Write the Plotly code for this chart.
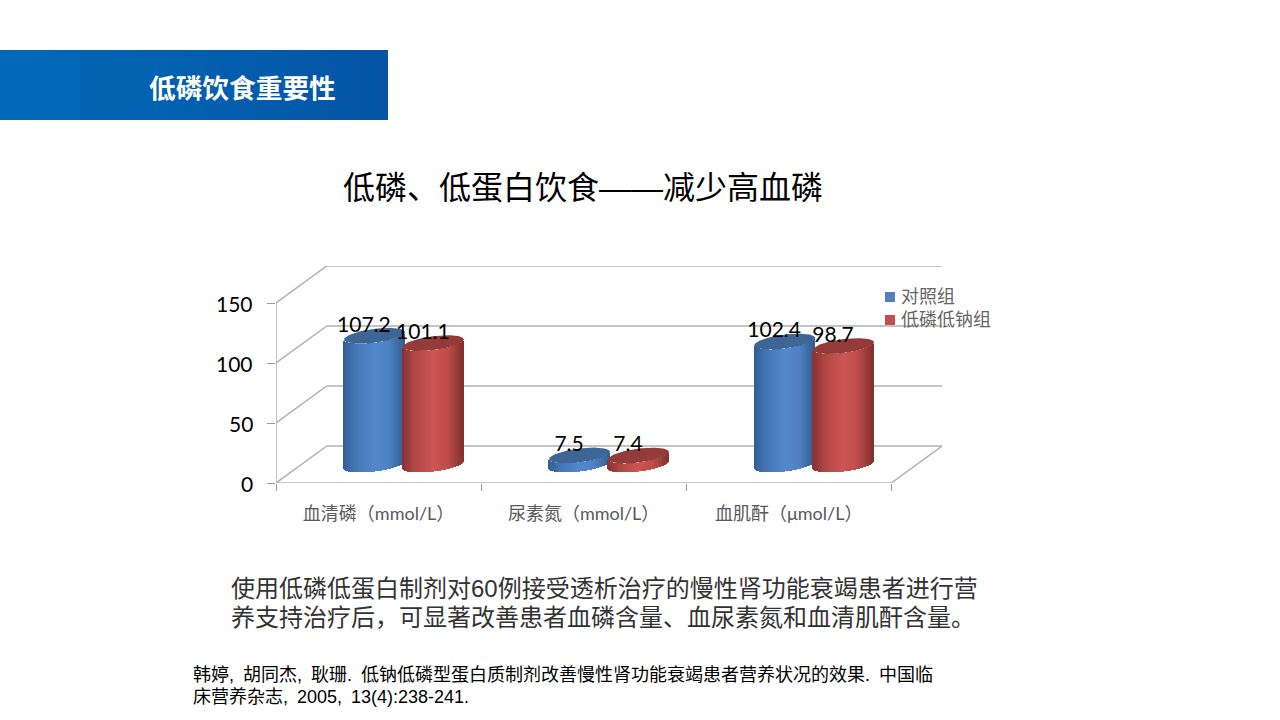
import numpy as np
import plotly.graph_objects as go

categories = ["血清磷（mmol/L）", "尿素氮（mmol/L）", "血肌酐（μmol/L）"]
control_values = [107.2, 7.5, 102.4]
low_values = [101.1, 7.4, 98.7]
y_ticks = [0, 50, 100, 150]
series_names = ["对照组", "低磷低钠组"]

W, H = 1280, 720
L, R, T, B = 276, 942, 266, 483
UX = (R - L) / 3.2435   # px per category
UY = 1.2                # px per value unit
DX, DY = 50.8 / UX, 37 / UY
A, BB, K = 30.5 / UX, 7.0 / UY, 0.12 * 30.5 / UY
OFF = 29.5 / UX
N = 60


def px(x):
    return (x - L) / (R - L)


def py(y):
    return (B - y) / (B - T)


def mix(stops, t):
    ts = [s[0] for s in stops]
    rgb = [np.interp(t, ts, [s[1][i] for s in stops]) for i in range(3)]
    return "rgb(%d,%d,%d)" % tuple(int(round(v)) for v in rgb)


BLUE = [(0, (48, 92, 145)), (0.18, (66, 116, 180)), (0.5, (82, 136, 204)), (0.75, (78, 130, 196)), (1, (50, 94, 148))]
RED = [(0, (134, 50, 48)), (0.2, (176, 70, 68)), (0.5, (204, 86, 83)), (0.75, (188, 76, 74)), (1, (130, 48, 46))]
CAP = ["#3d6595", "#933b39"]
LEG = ["#4f81bd", "#c0504d"]

fig = go.Figure()
shapes = []
GRID = dict(color="#b0b0b0", width=1.5)
for v in y_ticks:
    shapes.append(dict(type="line", xref="x", yref="y", x0=0, y0=v, x1=DX, y1=v + DY, line=GRID, layer="below"))
    shapes.append(dict(type="line", xref="x", yref="y", x0=DX, y0=v + DY, x1=3 + DX, y1=v + DY, line=GRID, layer="below"))
shapes.append(dict(type="line", xref="x", yref="y", x0=0, y0=0, x1=0, y1=150, line=GRID, layer="below"))
shapes.append(dict(type="line", xref="x", yref="y", x0=0, y0=0, x1=3, y1=0, line=GRID, layer="below"))
shapes.append(dict(type="line", xref="x", yref="y", x0=3, y0=0, x1=3 + DX, y1=DY, line=GRID, layer="below"))

# banner gradient
for i in range(97):
    t = i / 96
    shapes.append(dict(type="rect", xref="paper", yref="paper", x0=px(i * 4), x1=px(min(i * 4 + 4.5, 388)), y0=py(50), y1=py(120),
                       fillcolor=mix([(0, (0, 106, 184)), (1, (5, 84, 166))], t), line=dict(width=0), layer="below"))

label_x, label_y, label_t = [], [], []
for s, (vals, stops) in enumerate(zip([control_values, low_values], [BLUE, RED])):
    for c, v in enumerate(vals):
        cx = c + 0.5 + DX / 2 + (-OFF if s == 0 else OFF)
        cy = DY / 2
        u = (np.arange(N) + 0.5) / N * 2 - 1
        strip_x = cx + u * A
        base = cy + K * u - BB * np.sqrt(1 - u ** 2)
        fig.add_trace(go.Bar(x=strip_x, y=[v] * N, base=base, width=2 * A / N * 1.25,
                             marker=dict(color=[mix(stops, (a + 1) / 2) for a in u], line=dict(width=0)),
                             showlegend=False, hoverinfo="skip"))
        th = np.linspace(0, 2 * np.pi, 90)
        fig.add_trace(go.Scatter(x=cx + A * np.cos(th), y=cy + v + K * np.cos(th) + BB * np.sin(th),
                                 mode="lines", fill="toself", fillcolor=CAP[s], line=dict(width=0),
                                 showlegend=False, hoverinfo="skip"))
        label_x.append(cx - 10.5 / UX)
        label_y.append(cy + v + 9.5 / UY)
        label_t.append(str(v))

fig.add_trace(go.Scatter(x=label_x, y=label_y, text=label_t, mode="text", cliponaxis=False,
                         textfont=dict(family="Lato", size=21, color="#000000"), showlegend=False, hoverinfo="skip"))


def note(text, x, y, size, color="#000000", fam="Liberation Sans, Noto Sans CJK SC", anchor="left"):
    return dict(text=text, x=px(x), y=py(y), xref="paper", yref="paper", showarrow=False, xanchor=anchor,
                yanchor="middle", font=dict(family=fam, size=size, color=color))


annotations = [
    note("<b>低磷饮食重要性</b>", 146.5, 87, 26.7, "#ffffff", "Noto Sans CJK SC"),
    note("低磷、低蛋白饮食——减少高血磷", 341, 188, 32),
    note("使用低磷低蛋白制剂对60例接受透析治疗的慢性肾功能衰竭患者进行营", 229, 588, 24, "#333333"),
    note("养支持治疗后，可显著改善患者血磷含量、血尿素氮和血清肌酐含量。", 229, 617, 24, "#333333"),
    note("韩婷,\u2002胡同杰,\u2002耿珊.\u2002低钠低磷型蛋白质制剂改善慢性肾功能衰竭患者营养状况的效果.\u2002中国临", 190.5, 675, 18),
    note("床营养杂志,\u20022005,\u200213(4):238-241.", 190.5, 697, 18),
]
for name, col, y in zip(series_names, LEG, [297, 320]):
    annotations.append(note(name, 899, y, 18, "#666666"))
    shapes.append(dict(type="rect", xref="paper", yref="paper", x0=px(885), x1=px(895), y0=py(y - 5), y1=py(y + 5),
                       fillcolor=col, line=dict(width=0)))
for v in y_ticks:
    annotations.append(dict(text=str(v), x=px(255), y=v, xref="paper", yref="y", showarrow=False, xanchor="right",
                            yanchor="middle", font=dict(family="Lato", size=21, color="#000000")))

fig.update_layout(
    width=W, height=H, autosize=False, paper_bgcolor="#ffffff", plot_bgcolor="rgba(0,0,0,0)",
    margin=dict(l=L, r=W - R, t=T, b=H - B, pad=0), barmode="overlay", bargap=0, showlegend=False,
    shapes=shapes, annotations=annotations,
    xaxis=dict(range=[0, 3 + DX], showgrid=False, zeroline=False, showline=False,
               tickmode="array", tickvals=[0.5, 1.5, 2.5], ticktext=categories, ticks="", ticklen=0,
               ticklabelstandoff=18,
               tickfont=dict(family="Lato, Noto Sans CJK SC", size=18, color="#595959"),
               minor=dict(tickmode="array", tickvals=[0, 1, 2, 3], ticks="outside", ticklen=7, tickcolor="#9a9a9a", tickwidth=1.2)),
    yaxis=dict(range=[0, (B - T) / UY], showgrid=False, zeroline=False, showline=False,
               tickmode="array", tickvals=y_ticks, showticklabels=False, ticks="outside", ticklen=8, tickcolor="#9a9a9a", tickwidth=1.2),
)
fig.write_html("out.html", config={"displayModeBar": False}, post_script="document.body.style.margin='0';")
